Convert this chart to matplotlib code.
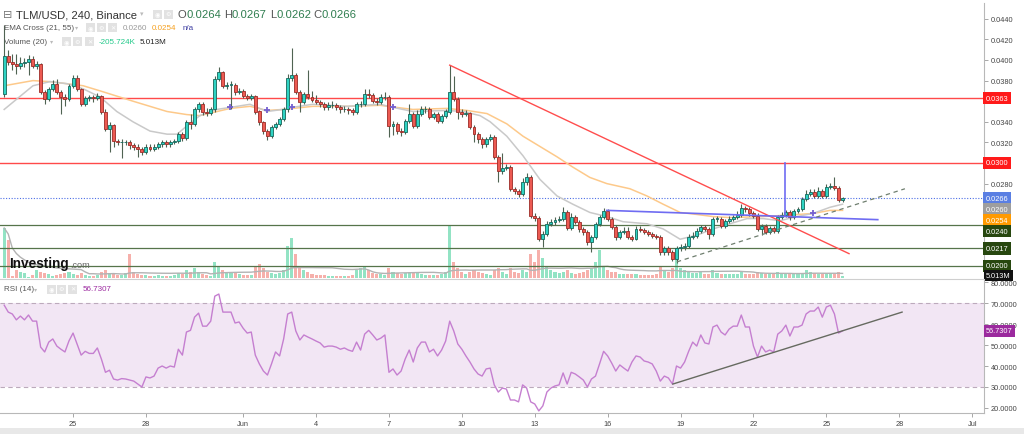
import matplotlib
matplotlib.use('Agg')
import matplotlib.pyplot as plt
import matplotlib.dates as mdates
import matplotlib.ticker as mticker
from matplotlib.patches import Rectangle
from matplotlib.lines import Line2D
import pandas as pd

plt.rcParams['font.family'] = ['Liberation Sans', 'DejaVu Sans']

# ---------------- data (4h candles, TLM/USD Binance) ----------------
first_open = 0.0367
closes = [
    0.0404, 0.0398, 0.0396, 0.0394, 0.0397, 0.0398, 0.0401, 0.0394, 0.0396, 0.0369,
    0.0362, 0.0372, 0.0377, 0.0369, 0.0364, 0.0362, 0.0375, 0.0383, 0.0372, 0.0357,
    0.0363, 0.0364, 0.0363, 0.0365, 0.0350, 0.0333, 0.0337, 0.0321, 0.0320, 0.0320,
    0.0320, 0.0317, 0.0316, 0.0314, 0.0311, 0.0316, 0.0314, 0.0316, 0.0318, 0.0320,
    0.0318, 0.0320, 0.0321, 0.0328, 0.0324, 0.0340, 0.0338, 0.0352, 0.0357, 0.0350,
    0.0349, 0.0352, 0.0382, 0.0388, 0.0375, 0.0376, 0.0376, 0.0369, 0.0370, 0.0365,
    0.0363, 0.0365, 0.0350, 0.0340, 0.0331, 0.0326, 0.0335, 0.0338, 0.0343, 0.0352,
    0.0383, 0.0385, 0.0369, 0.0359, 0.0367, 0.0364, 0.0361, 0.0359, 0.0357, 0.0354,
    0.0356, 0.0356, 0.0354, 0.0352, 0.0352, 0.0351, 0.0350, 0.0357, 0.0357, 0.0367,
    0.0366, 0.0360, 0.0359, 0.0364, 0.0364, 0.0336, 0.0338, 0.0331, 0.0330, 0.0341,
    0.0348, 0.0336, 0.0348, 0.0352, 0.0352, 0.0345, 0.0348, 0.0341, 0.0346, 0.0350,
    0.0369, 0.0362, 0.0350, 0.0348, 0.0349, 0.0335, 0.0328, 0.0323, 0.0318, 0.0323,
    0.0325, 0.0306, 0.0292, 0.0295, 0.0296, 0.0275, 0.0273, 0.0270, 0.0282, 0.0286,
    0.0249, 0.0247, 0.0226, 0.0231, 0.0241, 0.0243, 0.0245, 0.0246, 0.0252, 0.0237,
    0.0248, 0.0243, 0.0236, 0.0233, 0.0223, 0.0228, 0.0241, 0.0248, 0.0253, 0.0246,
    0.0238, 0.0228, 0.0233, 0.0234, 0.0228, 0.0226, 0.0236, 0.0235, 0.0233, 0.0231,
    0.0229, 0.0228, 0.0214, 0.0217, 0.0214, 0.0207, 0.0217, 0.0218, 0.0219, 0.0228,
    0.0229, 0.0234, 0.0238, 0.0236, 0.0231, 0.0246, 0.0246, 0.0239, 0.0244, 0.0246,
    0.0248, 0.0250, 0.0256, 0.0255, 0.0251, 0.0249, 0.0236, 0.0239, 0.0233, 0.0237,
    0.0234, 0.0248, 0.0250, 0.0252, 0.0248, 0.0253, 0.0255, 0.0265, 0.0270, 0.0272,
    0.0268, 0.0273, 0.0268, 0.0277, 0.0278, 0.0276, 0.0264, 0.0266,
]
highs = [
    0.0434, 0.0410, 0.0406, 0.0406, 0.0403, 0.0402, 0.0405, 0.0404, 0.0399, 0.0397,
    0.0371, 0.0374, 0.0381, 0.0382, 0.0371, 0.0367, 0.0377, 0.0385, 0.0385, 0.0373,
    0.0365, 0.0366, 0.0366, 0.0368, 0.0366, 0.0352, 0.0340, 0.0338, 0.0323, 0.0323,
    0.0322, 0.0322, 0.0319, 0.0318, 0.0316, 0.0318, 0.0318, 0.0318, 0.0320, 0.0322,
    0.0322, 0.0322, 0.0323, 0.0330, 0.0330, 0.0342, 0.0348, 0.0354, 0.0359, 0.0359,
    0.0353, 0.0354, 0.0384, 0.0393, 0.0389, 0.0379, 0.0380, 0.0378, 0.0373, 0.0372,
    0.0367, 0.0367, 0.0366, 0.0351, 0.0341, 0.0333, 0.0337, 0.0340, 0.0345, 0.0354,
    0.0386, 0.0412, 0.0387, 0.0371, 0.0369, 0.0390, 0.0370, 0.0366, 0.0361, 0.0359,
    0.0359, 0.0360, 0.0358, 0.0356, 0.0355, 0.0354, 0.0353, 0.0359, 0.0360, 0.0372,
    0.0372, 0.0368, 0.0363, 0.0367, 0.0369, 0.0366, 0.0341, 0.0340, 0.0334, 0.0343,
    0.0357, 0.0350, 0.0351, 0.0355, 0.0355, 0.0354, 0.0350, 0.0350, 0.0348, 0.0352,
    0.0395, 0.0384, 0.0364, 0.0352, 0.0351, 0.0350, 0.0337, 0.0330, 0.0325, 0.0325,
    0.0328, 0.0327, 0.0308, 0.0310, 0.0299, 0.0298, 0.0277, 0.0275, 0.0285, 0.0290,
    0.0288, 0.0251, 0.0249, 0.0234, 0.0244, 0.0246, 0.0248, 0.0249, 0.0257, 0.0254,
    0.0251, 0.0250, 0.0245, 0.0238, 0.0235, 0.0230, 0.0243, 0.0250, 0.0256, 0.0255,
    0.0248, 0.0240, 0.0235, 0.0238, 0.0238, 0.0230, 0.0239, 0.0239, 0.0237, 0.0235,
    0.0233, 0.0231, 0.0230, 0.0219, 0.0219, 0.0216, 0.0219, 0.0221, 0.0222, 0.0231,
    0.0233, 0.0237, 0.0240, 0.0240, 0.0238, 0.0248, 0.0249, 0.0248, 0.0246, 0.0249,
    0.0250, 0.0253, 0.0260, 0.0258, 0.0257, 0.0253, 0.0251, 0.0241, 0.0241, 0.0239,
    0.0239, 0.0250, 0.0252, 0.0254, 0.0254, 0.0255, 0.0257, 0.0267, 0.0274, 0.0275,
    0.0275, 0.0277, 0.0275, 0.0280, 0.0281, 0.0286, 0.0278, 0.0267,
]
lows = [
    0.0364, 0.0395, 0.0390, 0.0386, 0.0391, 0.0393, 0.0385, 0.0392, 0.0391, 0.0367,
    0.0357, 0.0360, 0.0370, 0.0367, 0.0348, 0.0355, 0.0360, 0.0373, 0.0370, 0.0355,
    0.0355, 0.0360, 0.0359, 0.0361, 0.0348, 0.0331, 0.0311, 0.0316, 0.0317, 0.0305,
    0.0317, 0.0314, 0.0313, 0.0306, 0.0308, 0.0309, 0.0312, 0.0312, 0.0314, 0.0316,
    0.0316, 0.0316, 0.0318, 0.0319, 0.0321, 0.0322, 0.0333, 0.0336, 0.0350, 0.0347,
    0.0346, 0.0347, 0.0350, 0.0380, 0.0373, 0.0372, 0.0352, 0.0366, 0.0367, 0.0363,
    0.0361, 0.0361, 0.0348, 0.0337, 0.0328, 0.0322, 0.0324, 0.0333, 0.0336, 0.0341,
    0.0350, 0.0380, 0.0367, 0.0350, 0.0357, 0.0362, 0.0359, 0.0357, 0.0354, 0.0351,
    0.0351, 0.0353, 0.0351, 0.0349, 0.0350, 0.0348, 0.0347, 0.0348, 0.0354, 0.0355,
    0.0363, 0.0358, 0.0356, 0.0357, 0.0361, 0.0325, 0.0327, 0.0328, 0.0326, 0.0328,
    0.0339, 0.0334, 0.0334, 0.0346, 0.0349, 0.0343, 0.0343, 0.0339, 0.0339, 0.0344,
    0.0348, 0.0360, 0.0343, 0.0345, 0.0346, 0.0333, 0.0320, 0.0319, 0.0315, 0.0316,
    0.0321, 0.0304, 0.0282, 0.0289, 0.0293, 0.0273, 0.0270, 0.0267, 0.0268, 0.0279,
    0.0247, 0.0244, 0.0224, 0.0218, 0.0229, 0.0239, 0.0240, 0.0243, 0.0244, 0.0235,
    0.0235, 0.0241, 0.0233, 0.0230, 0.0220, 0.0214, 0.0226, 0.0239, 0.0246, 0.0244,
    0.0236, 0.0225, 0.0226, 0.0231, 0.0226, 0.0224, 0.0225, 0.0233, 0.0231, 0.0229,
    0.0227, 0.0226, 0.0211, 0.0211, 0.0211, 0.0205, 0.0203, 0.0215, 0.0216, 0.0217,
    0.0226, 0.0227, 0.0232, 0.0234, 0.0226, 0.0229, 0.0243, 0.0237, 0.0237, 0.0242,
    0.0244, 0.0246, 0.0248, 0.0252, 0.0249, 0.0247, 0.0234, 0.0230, 0.0231, 0.0231,
    0.0232, 0.0232, 0.0246, 0.0248, 0.0245, 0.0246, 0.0251, 0.0253, 0.0263, 0.0268,
    0.0266, 0.0266, 0.0266, 0.0266, 0.0275, 0.0274, 0.0262, 0.0262,
]
volumes_m = [
    125, 95, 5, 20, 15, 12, 3, 8, 20, 15,
    12, 10, 5, 8, 10, 12, 15, 10, 8, 12,
    8, 6, 5, 8, 15, 20, 12, 10, 8, 8,
    12, 60, 15, 10, 8, 8, 6, 5, 8, 6,
    6, 5, 8, 12, 10, 20, 15, 25, 15, 10,
    8, 6, 40, 30, 20, 12, 15, 12, 10, 8,
    8, 8, 30, 35, 25, 15, 12, 10, 12, 20,
    80, 100, 60, 30, 20, 15, 10, 8, 8, 8,
    6, 6, 6, 6, 6, 6, 8, 20, 25, 30,
    20, 12, 10, 10, 8, 25, 15, 12, 10, 12,
    15, 12, 12, 10, 8, 8, 8, 8, 10, 15,
    130, 40, 25, 15, 10, 15, 20, 15, 12, 10,
    8, 20, 25, 15, 10, 25, 15, 12, 20, 15,
    60, 40, 70, 50, 30, 20, 15, 12, 15, 20,
    12, 10, 12, 15, 20, 25, 40, 70, 30, 20,
    15, 15, 10, 10, 10, 10, 10, 8, 8, 8,
    8, 10, 30, 20, 15, 25, 50, 25, 20, 15,
    12, 12, 15, 10, 10, 20, 12, 10, 10, 10,
    10, 10, 15, 10, 10, 10, 15, 12, 10, 10,
    10, 15, 12, 10, 10, 12, 10, 12, 20, 15,
    12, 10, 10, 10, 12, 10, 15, 5,
]
rsi = [
    69, 65.7, 64.8, 62, 63.8, 62, 64.3, 61.4, 61.4, 49,
    46.7, 51.4, 52.9, 49.5, 48, 46.7, 52, 55.7, 50.5, 45.2,
    47, 46, 46, 48.6, 43.3, 37, 38, 33.8, 33.3, 34,
    33.8, 33.3, 32.8, 31.4, 30, 34.8, 34.3, 35.2, 39, 40,
    39, 40, 39.5, 48, 45.2, 56.2, 57, 63.3, 65.2, 59,
    59, 61.4, 73.3, 74.3, 65.7, 65.7, 65.7, 60.5, 61, 58,
    55.7, 56.2, 45.2, 41, 37.6, 35.7, 41, 46.7, 44.8, 52.9,
    64.8, 65.7, 56.7, 52.4, 54.8, 53.8, 52.9, 51.9, 51, 49,
    49.5, 49.5, 49, 48, 48.6, 47.6, 47, 51.4, 47.6, 55.2,
    57, 54.8, 52.4, 53.3, 54.8, 37, 38.6, 35.7, 37.6, 43.3,
    47.6, 41.9, 48.6, 51.4, 51.4, 46.7, 48, 44.8, 47.6, 51.9,
    61.4, 56.7, 50.5, 48, 44.8, 41.9, 38.6, 36.2, 35.2, 38.6,
    39, 31, 27.6, 29.5, 29, 23.8, 23.8, 22.9, 31, 29.5,
    22.9, 21.9, 18.6, 21, 27.6, 29.5, 30.5, 31, 36.7, 31.4,
    37, 36.2, 34.8, 33.3, 30, 33.8, 35.2, 41, 47, 44.8,
    41.4, 37.6, 40.5, 39, 37.6, 41.9, 44.8, 44.3, 42.4, 41.9,
    41, 37.6, 32.8, 35.2, 34.3, 31.4, 40, 39, 41.9, 47,
    51.4, 49.5, 54.8, 51, 50.5, 58.6, 59.5, 56.2, 54.8, 57.6,
    59, 59, 64.3, 58.6, 58.6, 49.5, 44.3, 49.5, 46.7, 47.6,
    46.7, 55.2, 56.7, 59.5, 54.3, 58.6, 58.6, 59.5, 64.8, 66.2,
    66.2, 68.1, 63.3, 68.1, 69, 64.8, 55.7, 56.73,
]
# EMA lines: (candle position, value)
ema21_pos = [0, 7.1, 11.3, 15.5, 19.5, 23.7, 27.8, 31.8, 36, 40.2, 42.7, 45.1, 48.3, 52.5,
             55.8, 60.7, 64.9, 68.8, 71.1, 76.2, 84.6, 92.8, 96, 100.9, 109.3, 113.3, 117.5,
             120, 124.1, 128.1, 132.3, 136.5, 140.4, 144.6, 148.8, 152.8, 158.7, 162.7,
             166.9, 171.1, 175, 179.2, 183.4, 187.4, 191.6, 195.7, 199.7, 203.9, 207]
ema21_val = [0.0352, 0.0375, 0.0379, 0.0377, 0.0372, 0.0364, 0.0350, 0.0340, 0.0331, 0.0328,
             0.0328, 0.0336, 0.0346, 0.0352, 0.0354, 0.0357, 0.0350, 0.0352, 0.0354, 0.0357,
             0.0355, 0.0357, 0.0354, 0.0350, 0.0351, 0.0350, 0.0346, 0.0340, 0.0326, 0.0307,
             0.0284, 0.0268, 0.0260, 0.0252, 0.0248, 0.0243, 0.0241, 0.0236, 0.0226, 0.0230,
             0.0236, 0.0241, 0.0246, 0.0246, 0.0244, 0.0248, 0.0251, 0.0257, 0.0260]
ema55_pos = [0, 7.1, 11.3, 19.5, 23.7, 31.8, 40.2, 45.1, 48.3, 55.8, 60.7, 64.9, 68.8, 76.2,
             84.6, 92.8, 100.9, 109.3, 114.3, 119.2, 124.1, 128.1, 132.3, 136.5, 140.4, 144.6,
             148.8, 154.5, 158.7, 162.7, 166.9, 171.1, 175, 179.2, 187.4, 195.7, 199.7, 203.9, 207]
ema55_val = [0.0375, 0.0380, 0.0379, 0.0375, 0.0370, 0.0360, 0.0350, 0.0347, 0.0346, 0.0353,
             0.0355, 0.0351, 0.0352, 0.0355, 0.0355, 0.0356, 0.0352, 0.0353, 0.0351, 0.0348,
             0.0338, 0.0326, 0.0316, 0.0306, 0.0296, 0.0286, 0.0280, 0.0275, 0.0268, 0.0260,
             0.0252, 0.0250, 0.0248, 0.0247, 0.0248, 0.0250, 0.0251, 0.0254, 0.0254]
cross_pos = [55.8, 64.9, 71.1, 96, 199.7]
cross_val = [0.0354, 0.0351, 0.0354, 0.0354, 0.0251]

resist_levels = [0.0363, 0.0300]
support_levels = [0.0240, 0.0217, 0.0200]
last_price = 0.0266
ema21_last, ema55_last = 0.0260, 0.0254
rsi_last = 56.7307
vol_last_label = '5.013M'
# price ticks not hidden behind the value boxes on the right
price_ticks = [0.0280, 0.0320, 0.0340, 0.0380, 0.0400, 0.0420, 0.0440]
rsi_ticks = [20, 30, 40, 50, 60, 70, 80]

# drawings (candle position, value)
red_trend = [(110, 0.0395), (208.6, 0.0212)]
blue_line = [(148.8, 0.0254), (215.7, 0.0245)]
blue_vert = [(192.8, 0.0300), (192.8, 0.0250)]
gray_dash = [(166.1, 0.0204), (222.4, 0.0275)]
rsi_trend = [(165.1, 31.4), (221.7, 65.7)]

tick_dates = ['2021-05-25', '2021-05-28', '2021-06-01', '2021-06-04', '2021-06-07',
              '2021-06-10', '2021-06-13', '2021-06-16', '2021-06-19', '2021-06-22',
              '2021-06-25', '2021-06-28', '2021-07-01']
tick_labels = ['25', '28', 'Jun', '4', '7', '10', '13', '16', '19', '22', '25', '28', 'Jul']

# ---------------- layout ----------------
W, H = 1024, 435
def fx(px): return px / W
def fy(py): return 1 - py / H

n = len(closes)
opens = [first_open] + closes[:-1]
times = pd.date_range('2021-05-22 04:00', periods=n, freq='4h')
t = mdates.date2num(times.to_pydatetime())
step = t[1] - t[0]
def tpos(p): return t[0] + step * p

fig = plt.figure(figsize=(W / 100, H / 100), dpi=100)
fig.patch.set_facecolor('white')
rect_price = [0, fy(279), fx(984), (279 - 4) / H]
rect_rsi = [0, fy(414), fx(984), (414 - 281) / H]
axv = fig.add_axes(rect_price)
ax = fig.add_axes(rect_price, sharex=axv)
axr = fig.add_axes(rect_rsi, sharex=axv)
ax.patch.set_visible(False)

xl = t[0] - step * (4.2 / 4.05)
xr = t[0] + step * ((984 - 4.2) / 4.05)
ax.set_xlim(xl, xr)

plo = 0.0200 - 12 / 10300
phi = 0.0200 + 263 / 10300
ax.set_ylim(plo, phi)

# volume
GREEN_V, RED_V = '#93e3c4', '#f6b0ab'
up = [c >= o for o, c in zip(opens, closes)]
vcols = [GREEN_V if u else RED_V for u in up]
axv.bar(t, volumes_m, width=step * 0.75, color=vcols, linewidth=0)
vma = pd.Series(volumes_m).rolling(20, min_periods=1).mean()
axv.plot(t, vma, color='#b3b3b3', lw=1)
axv.set_ylim(0, 275 * 2.5)
axv.set_axis_off()

# levels
for lv in resist_levels:
    ax.axhline(lv, color='#ff4a4a', lw=1, zorder=1)
for lv in support_levels:
    ax.axhline(lv, color='#56744a', lw=0.9, zorder=1)
ax.axhline(last_price, color='#4d6fe6', lw=0.8, ls=(0, (1, 1.5)), zorder=1)

# EMAs
ax.plot([tpos(p) for p in ema55_pos], ema55_val, color='#fdc98a', lw=1.1, zorder=2)
ax.plot([tpos(p) for p in ema21_pos], ema21_val, color='#c9c9c9', lw=1.1, zorder=2)
ax.plot([tpos(p) for p in cross_pos], cross_val, ls='none', marker='+', ms=5, mew=1.3,
        color='#7460d0', zorder=4)

# candles
WICK = '#4f6352'
ax.vlines(t, lows, highs, color=WICK, lw=0.8, zorder=3)
bottoms = [min(o, c) for o, c in zip(opens, closes)]
heights = [max(abs(c - o), 0.00004) for o, c in zip(opens, closes)]
faces = ['#2fd3c3' if u else '#ec5a52' for u in up]
edges = ['#17665a' if u else '#9c2b26' for u in up]
ax.bar(t, heights, bottom=bottoms, width=step * 0.72, color=faces, edgecolor=edges,
       linewidth=0.6, zorder=3)

# drawings
def seg(axis, pts, **kw):
    axis.plot([tpos(p) for p, _ in pts], [v for _, v in pts], **kw)
seg(ax, red_trend, color='#ff4d4d', lw=1, zorder=4)
seg(ax, blue_line, color='#6f6cf2', lw=1.2, zorder=4)
seg(ax, blue_vert, color='#6f6cf2', lw=1.2, zorder=4)
seg(ax, gray_dash, color='#6f7f6f', lw=0.9, ls=(0, (3.5, 3)), zorder=4)

# price axis styling
for s in ['left', 'top', 'bottom']:
    ax.spines[s].set_visible(False)
ax.spines['right'].set_color('#b8b8b8')
ax.spines['right'].set_linewidth(0.8)
ax.yaxis.tick_right()
ax.set_yticks(price_ticks)
ax.yaxis.set_major_formatter(mticker.FormatStrFormatter('%.4f'))
ax.tick_params(axis='y', labelsize=5.3, labelcolor='#444', color='#999', length=3,
               width=0.6, pad=2)
ax.tick_params(axis='x', bottom=False, labelbottom=False)

# right labels with de-overlap
lab_items = [(resist_levels[0], '#ff1a1a'), (resist_levels[1], '#ff1a1a'),
             (last_price, '#5a7fe3'), (ema21_last, '#9e9e9e'), (ema55_last, '#ff9a00'),
             (support_levels[0], '#27470f'), (support_levels[1], '#27470f'),
             (support_levels[2], '#27470f')]
gap = 11 / 10300
prev = None
for val, col in lab_items:
    ypos = val if prev is None else min(val, prev - gap)
    prev = ypos
    ax.text(1.0 + 2 / 984, ypos, '%.4f' % val, transform=ax.get_yaxis_transform(),
            ha='left', va='center', fontsize=5.3, color='white', clip_on=False, zorder=20,
            bbox=dict(boxstyle='square,pad=0.35', fc=col, ec='none'))
ax.text(1.0 + 2 / 984, plo + 2.5 / 10300, vol_last_label, transform=ax.get_yaxis_transform(),
        ha='left', va='center', fontsize=5.3, color='white', clip_on=False, zorder=20,
        bbox=dict(boxstyle='square,pad=0.3', fc='#111111', ec='none'))

# ---------------- RSI ----------------
axr.set_ylim(17.6, 81)
axr.axhspan(30, 70, color='#f2e6f4', zorder=0, lw=0)
axr.axhline(70, color='#bcaabc', lw=0.8, ls=(0, (4, 3)))
axr.axhline(30, color='#bcaabc', lw=0.8, ls=(0, (4, 3)))
axr.plot(t, rsi, color='#c57fd0', lw=1, zorder=3)
seg(axr, rsi_trend, color='#666a60', lw=1, zorder=4)
for s in ['left', 'top']:
    axr.spines[s].set_visible(False)
for s in ['right', 'bottom']:
    axr.spines[s].set_color('#b8b8b8')
    axr.spines[s].set_linewidth(0.8)
axr.yaxis.tick_right()
axr.set_yticks(rsi_ticks)
axr.yaxis.set_major_formatter(mticker.FormatStrFormatter('%.4f'))
axr.tick_params(axis='y', labelsize=5.3, labelcolor='#444', color='#999', length=3,
                width=0.6, pad=2)
axr.set_xticks(mdates.date2num(pd.to_datetime(tick_dates).to_pydatetime()))
axr.set_xticklabels(tick_labels)
axr.tick_params(axis='x', labelsize=5.3, labelcolor='#444', color='#999', length=3,
                width=0.6, pad=2)
axr.text(1.0 + 2 / 984, rsi_last, '%.4f' % rsi_last, transform=axr.get_yaxis_transform(),
         ha='left', va='center', fontsize=5.3, color='white', clip_on=False, zorder=20,
         bbox=dict(boxstyle='square,pad=0.3', fc='#9b2a9e', ec='none'))
axr.set_xlim(xl, xr)

# separator & bottom strip
fig.add_artist(Line2D([0, fx(984)], [fy(280), fy(280)], color='#cfcfcf', lw=0.8))
fig.add_artist(Rectangle((0, 0), 1, 6 / H, transform=fig.transFigure, fc='#e8e8e8', ec='none'))

# ---------------- header texts ----------------
def icon(x0, yc, glyph):
    fig.add_artist(Rectangle((fx(x0), fy(yc + 4.5)), 9 / W, 9 / H, transform=fig.transFigure,
                             fc='#e2e2e2', ec='none', zorder=10))
    fig.text(fx(x0 + 4.5), fy(yc), glyph, ha='center', va='center', fontsize=4.5,
             color='white', family=['DejaVu Sans'], zorder=11)

GL = ['\u25c9', '\u2699', '\u2715']
fig.text(fx(3), fy(15), '\u229f', fontsize=8, color='#777', va='center', family=['DejaVu Sans'])
fig.text(fx(16), fy(15), 'TLM/USD, 240, Binance', fontsize=8.1, color='#333', va='center')
fig.text(fx(140), fy(14), '\u25be', fontsize=5, color='#bbb', va='center', family=['DejaVu Sans'])
icon(153, 15, GL[0]); icon(164, 15, GL[1])
for lx, letter, vx, val in [(177, 'O', 186.5, '0.0264'), (224, 'H', 232, '0.0267'),
                            (270, 'L', 276.5, '0.0262'), (313, 'C', 321, '0.0266')]:
    fig.text(fx(lx), fy(15), letter, fontsize=8.1, color='#555', va='center')
    fig.text(fx(vx), fy(15), val, fontsize=8.1, color='#2f7d4f', va='center')

fig.text(fx(4), fy(28.5), 'EMA Cross (21, 55)', fontsize=5.8, color='#555', va='center')
fig.text(fx(75), fy(28), '\u25be', fontsize=4.5, color='#bbb', va='center', family=['DejaVu Sans'])
icon(86, 28.5, GL[0]); icon(97, 28.5, GL[1]); icon(108, 28.5, GL[2])
fig.text(fx(123), fy(28.5), '%.4f' % ema21_last, fontsize=5.8, color='#9a9a9a', va='center')
fig.text(fx(152), fy(28.5), '%.4f' % ema55_last, fontsize=5.8, color='#f5a020', va='center')
fig.text(fx(183), fy(28.5), 'n/a', fontsize=5.8, color='#3a3aa0', va='center')

fig.text(fx(4), fy(42.5), 'Volume (20)', fontsize=5.8, color='#555', va='center')
fig.text(fx(50), fy(42), '\u25be', fontsize=4.5, color='#bbb', va='center', family=['DejaVu Sans'])
icon(62, 42.5, GL[0]); icon(73, 42.5, GL[1]); icon(85, 42.5, GL[2])
fig.text(fx(99), fy(42.5), '-205.724K', fontsize=5.8, color='#22c98a', va='center')
fig.text(fx(140), fy(42.5), vol_last_label, fontsize=5.8, color='#222', va='center')

fig.text(fx(4), fy(290), 'RSI (14)', fontsize=5.8, color='#555', va='center')
fig.text(fx(34), fy(289.5), '\u25be', fontsize=4.5, color='#bbb', va='center', family=['DejaVu Sans'])
icon(47, 290, GL[0]); icon(57, 290, GL[1]); icon(68, 290, GL[2])
fig.text(fx(83), fy(290), '%.4f' % rsi_last, fontsize=5.8, color='#9c2aa0', va='center')

# watermark
fig.text(fx(9), fy(268), 'Investing', fontsize=9.8, weight='bold', color='#111', va='baseline',
         zorder=12)
fig.text(fx(70), fy(268), '.com', fontsize=6.6, color='#666', va='baseline', zorder=12)

fig.savefig('out.png', dpi=100)
